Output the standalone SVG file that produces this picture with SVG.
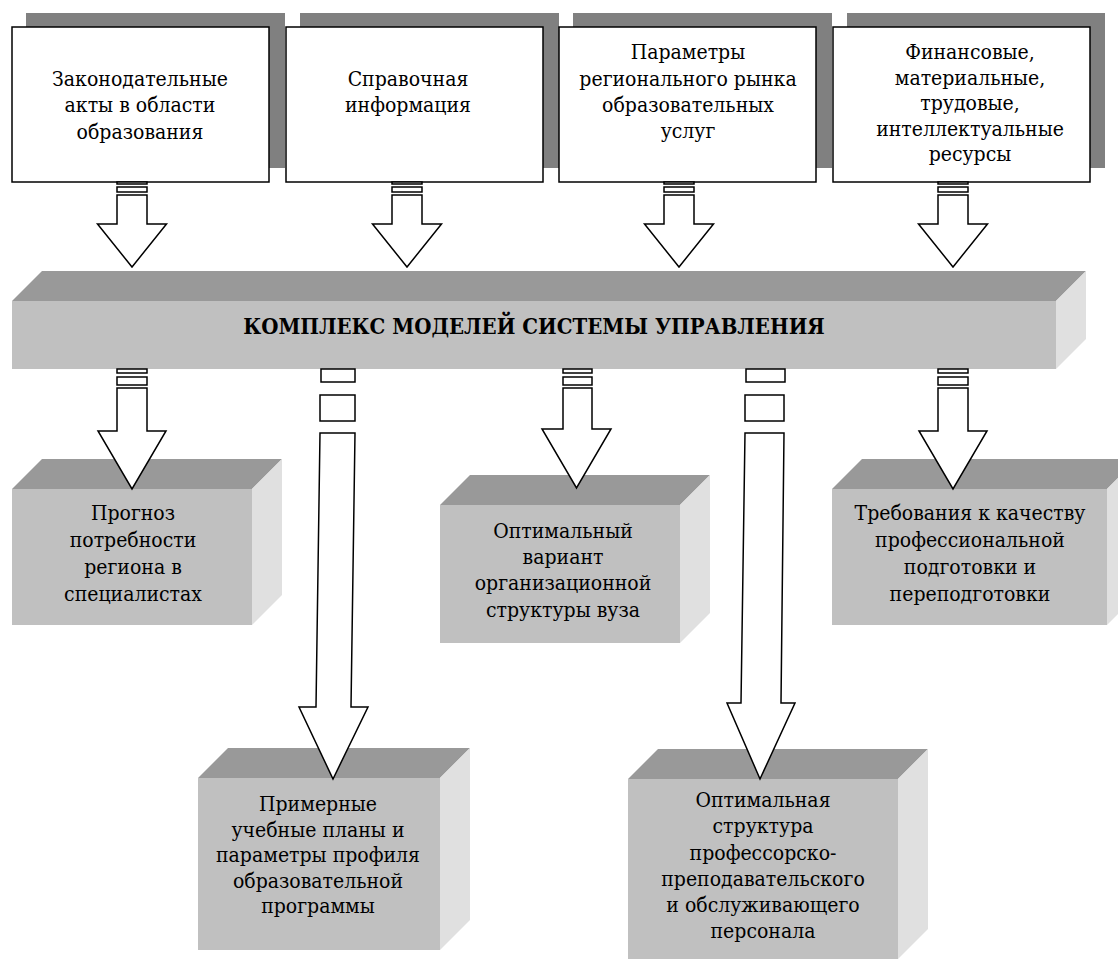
<svg xmlns="http://www.w3.org/2000/svg" width="1118" height="963" viewBox="0 0 1118 963">
<style>
.shadow{fill:#808080}
.box{fill:#fff;stroke:#000;stroke-width:1.5}
.top{fill:#999999}
.front{fill:#c0c0c0}
.side{fill:#e0e0e0}
.arr{fill:#fff;stroke:#000;stroke-width:1.5;stroke-linejoin:miter}
text{font-family:'DejaVu Serif Condensed','DejaVu Serif',serif;font-stretch:condensed;font-size:21px;fill:#000;text-anchor:middle}
.title{font-weight:bold;font-size:22px}
</style>
<rect width="1118" height="963" fill="#fff"/>
<g id="src1">
<rect class="shadow" x="26" y="13" width="259" height="155"/>
<rect class="box" x="12" y="27" width="257" height="155"/>
<text x="140" y="86">Законодательные</text>
<text x="140" y="112">акты в области</text>
<text x="140" y="139">образования</text>
</g>
<g id="src2">
<rect class="shadow" x="300" y="13" width="259" height="155"/>
<rect class="box" x="286" y="27" width="257" height="155"/>
<text x="408" y="86">Справочная</text>
<text x="408" y="112">информация</text>
</g>
<g id="src3">
<rect class="shadow" x="573" y="13" width="259" height="155"/>
<rect class="box" x="559" y="27" width="257" height="155"/>
<text x="688" y="59">Параметры</text>
<text x="688" y="86">регионального рынка</text>
<text x="688" y="112">образовательных</text>
<text x="688" y="138">услуг</text>
</g>
<g id="src4">
<rect class="shadow" x="847" y="13" width="258" height="155"/>
<rect class="box" x="833" y="27" width="257" height="155"/>
<text x="970" y="59">Финансовые,</text>
<text x="970" y="84.5">материальные,</text>
<text x="970" y="110">трудовые,</text>
<text x="970" y="135.5">интеллектуальные</text>
<text x="970" y="161">ресурсы</text>
</g>

<g id="core">
<polygon class="top" points="12,301 42,271 1086,271 1056,301"/>
<rect class="front" x="12" y="301" width="1044" height="68"/>
<polygon class="side" points="1056,301 1086,271 1086,339 1056,369"/>
<text class="title" x="534" y="334">КОМПЛЕКС МОДЕЛЕЙ СИСТЕМЫ УПРАВЛЕНИЯ</text>
</g>

<g id="out1">
<polygon class="top" points="12,489 42,459 282,459 252,489"/>
<rect class="front" x="12" y="489" width="240" height="136"/>
<polygon class="side" points="252,489 282,459 282,595 252,625"/>
<text x="133" y="520">Прогноз</text>
<text x="133" y="547">потребности</text>
<text x="133" y="574">региона в</text>
<text x="133" y="601">специалистах</text>
</g>
<g id="out2">
<polygon class="top" points="198,778 228,748 470,748 440,778"/>
<rect class="front" x="198" y="778" width="242" height="172"/>
<polygon class="side" points="440,778 470,748 470,920 440,950"/>
<text x="318" y="811">Примерные</text>
<text x="318" y="837">учебные планы и</text>
<text x="318" y="862">параметры профиля</text>
<text x="318" y="888">образовательной</text>
<text x="318" y="913">программы</text>
</g>
<g id="out3">
<polygon class="top" points="440,505 470,475 710,475 680,505"/>
<rect class="front" x="440" y="505" width="240" height="138"/>
<polygon class="side" points="680,505 710,475 710,613 680,643"/>
<text x="563" y="538">Оптимальный</text>
<text x="563" y="564">вариант</text>
<text x="563" y="590">организационной</text>
<text x="563" y="617">структуры вуза</text>
</g>
<g id="out4">
<polygon class="top" points="628,779 658,749 928,749 898,779"/>
<rect class="front" x="628" y="779" width="270" height="180"/>
<polygon class="side" points="898,779 928,749 928,929 898,959"/>
<text x="763" y="807">Оптимальная</text>
<text x="763" y="833">структура</text>
<text x="763" y="860">профессорско-</text>
<text x="763" y="886">преподавательского</text>
<text x="763" y="912">и обслуживающего</text>
<text x="763" y="938">персонала</text>
</g>
<g id="out5">
<polygon class="top" points="832,489 862,459 1137,459 1107,489"/>
<rect class="front" x="832" y="489" width="275" height="136"/>
<polygon class="side" points="1107,489 1137,459 1137,595 1107,625"/>
<text x="970" y="520">Требования к качеству</text>
<text x="970" y="547">профессиональной</text>
<text x="970" y="574">подготовки и</text>
<text x="970" y="601">переподготовки</text>
</g>

<g id="connectors">
<g>
<rect class="arr" x="117" y="182" width="30" height="2"/>
<rect class="arr" x="117" y="187" width="30" height="5"/>
<polygon class="arr" points="117,195 147,195 147,224 166.5,224 132,267 97.5,224 117,224"/>
</g>
<g>
<rect class="arr" x="392" y="182" width="30" height="2"/>
<rect class="arr" x="392" y="187" width="30" height="5"/>
<polygon class="arr" points="392,195 422,195 422,224 441.5,224 407,267 372.5,224 392,224"/>
</g>
<g>
<rect class="arr" x="664" y="182" width="30" height="2"/>
<rect class="arr" x="664" y="187" width="30" height="5"/>
<polygon class="arr" points="664,195 694,195 694,224 713.5,224 679,267 644.5,224 664,224"/>
</g>
<g>
<rect class="arr" x="938" y="182" width="30" height="2"/>
<rect class="arr" x="938" y="187" width="30" height="5"/>
<polygon class="arr" points="938,195 968,195 968,224 987.5,224 953,267 918.5,224 938,224"/>
</g>
<g>
<rect class="arr" x="117" y="369" width="30" height="4"/>
<rect class="arr" x="117" y="377" width="30" height="8"/>
<polygon class="arr" points="117,388 147,388 147,431 166,431 132,489 98,431 117,431"/>
</g>
<g>
<rect class="arr" x="563" y="369" width="29" height="4"/>
<rect class="arr" x="563" y="377" width="29" height="8"/>
<polygon class="arr" points="563,388 592,388 592,429 611,429 576.5,488 542,429 563,429"/>
</g>
<g>
<rect class="arr" x="938" y="369" width="30" height="4"/>
<rect class="arr" x="938" y="377" width="30" height="8"/>
<polygon class="arr" points="938,388 968,388 968,431 987,431 953,489 919,431 938,431"/>
</g>
<g>
<rect class="arr" x="321" y="369" width="34" height="13"/>
<rect class="arr" x="320" y="395" width="35" height="26"/>
<polygon class="arr" points="320,433 355,433 351,707 368,707 333,779 299,707 316,707"/>
</g>
<g>
<rect class="arr" x="746" y="369" width="39" height="13"/>
<rect class="arr" x="745" y="395" width="39" height="26"/>
<polygon class="arr" points="745,433 784,433 781,703 795,703 760,779 727,703 741,703"/>
</g>
</g>
</svg>
